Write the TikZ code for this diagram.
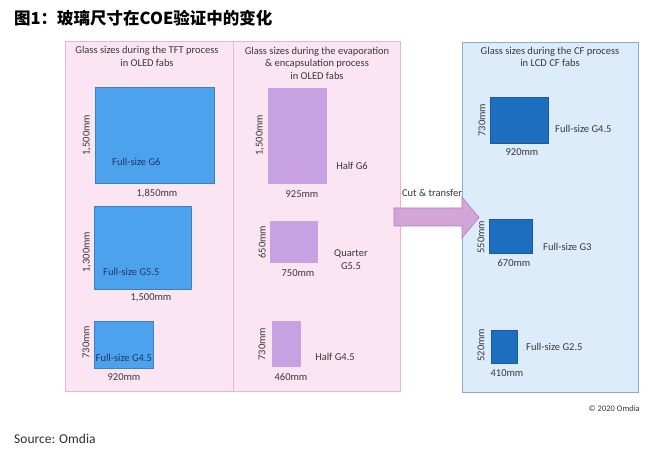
\documentclass[tikz,border=0pt]{standalone}
\usepackage{fontspec}
\setmainfont{Carlito}
\newfontfamily\cjk{Noto Sans CJK SC}
\definecolor{pinkf}{HTML}{FBE5F2}
\definecolor{pinkb}{HTML}{E3B6D8}
\definecolor{bluef}{HTML}{DDECFA}
\definecolor{blueb}{HTML}{8DAACB}
\definecolor{lblue}{HTML}{4DA2EE}
\definecolor{lblueb}{HTML}{3E7FC2}
\definecolor{lav}{HTML}{C7A1E2}
\definecolor{dblue}{HTML}{1E6EC0}
\definecolor{dblueb}{HTML}{1A5AA0}
\definecolor{txt}{HTML}{383838}
\definecolor{navy}{HTML}{1F3864}
\definecolor{arrf}{HTML}{D4A4D8}
\definecolor{arrb}{HTML}{B07EBC}
\begin{document}
\begin{tikzpicture}[x=1pt,y=-1pt,
  panelp/.style={draw=pinkb, fill=pinkf, line width=0.8pt, minimum width=#1, minimum height=350pt, inner sep=0},
  panelb/.style={draw=blueb, fill=bluef, line width=0.8pt, minimum width=176pt, minimum height=350pt, inner sep=0},
  glass/.style 2 args={minimum width=#1, minimum height=#2, inner sep=0},
  gl/.style={fill=lblue, draw=lblueb, line width=0.5pt},
  gv/.style={fill=lav},
  gd/.style={fill=dblue, draw=dblueb, line width=0.5pt},
  head/.style={text=txt, font=\fontsize{10.5}{12.5}\selectfont, align=center, inner sep=0},
  dim/.style={text=txt, font=\fontsize{10.5}{12.5}\selectfont, inner sep=0},
  vdim/.style={dim, rotate=90},
  lab/.style={text=txt, font=\fontsize{10.5}{13.5}\selectfont, inner sep=0, align=center},
  nlab/.style={text=navy, font=\fontsize{10.5}{12.5}\selectfont, inner sep=0, anchor=west},
]
\useasboundingbox (0,0) rectangle (650,454);
\fill[white] (0,0) rectangle (650,454);

% title
\node[anchor=west, inner sep=0, font=\fontsize{16.5}{19}\selectfont\cjk\bfseries] (title) at (14,18) {图1：玻璃尺寸在COE验证中的变化};

% panels
\node[panelp=168pt] (p1) at (149,216) {};
\node[panelp=167pt] (p2) at (316.5,216) {};

% "Cut & transfer" label (behind the blue panel)
\node[lab] (cut) at (432,193) {Cut \& transfer};

\node[panelb] (p3) at (550,217) {};

% headings
\node[head] (h1) at (147,56.5) {Glass sizes during the TFT process\\in OLED fabs};
\node[head] (h2) at (317,63) {Glass sizes during the evaporation\\\& encapsulation process\\in OLED fabs};
\node[head] (h3) at (550,57) {Glass sizes during the CF process\\in LCD CF fabs};

% panel 1
\node[glass={119pt}{96pt}, gl] (g6) at (154.5,135) {};
\node[vdim] (g6h) at (87,135) {1,500mm};
\node[dim] (g6w) at (157,194) {1,850mm};
\node[nlab] (g6l) at (112,162) {Full-size G6};

\node[glass={97pt}{83pt}, gl] (g55) at (142.5,247.5) {};
\node[vdim] (g55h) at (87,252) {1,300mm};
\node[dim] (g55w) at (151,298) {1,500mm};
\node[nlab] (g55l) at (103,272) {Full-size G5.5};

\node[glass={59pt}{47pt}, gl] (g45) at (123.5,344.5) {};
\node[vdim] (g45h) at (86,342) {730mm};
\node[dim] (g45w) at (124,377) {920mm};
\node[nlab] (g45l) at (95.5,358) {Full-size G4.5};

% panel 2
\node[glass={59pt}{96pt}, gv] (hg6) at (297.5,136) {};
\node[vdim] (hg6h) at (260,135) {1,500mm};
\node[dim] (hg6w) at (302,194) {925mm};
\node[lab] (hg6l) at (352,166) {Half G6};

\node[glass={48pt}{42pt}, gv] (q55) at (294,242) {};
\node[vdim] (q55h) at (262,242) {650mm};
\node[dim] (q55w) at (298,273) {750mm};
\node[lab] (q55l) at (351,259.5) {Quarter\\G5.5};

\node[glass={29pt}{46pt}, gv] (h45) at (286.5,344) {};
\node[vdim] (h45h) at (262,344) {730mm};
\node[dim] (h45w) at (291,377) {460mm};
\node[lab] (h45l) at (335,357) {Half G4.5};

% blue panel
\node[glass={58pt}{46pt}, gd] (b45) at (519,120) {};
\node[vdim] (b45h) at (482,120) {730mm};
\node[dim] (b45w) at (522,152) {920mm};
\node[lab, anchor=west] (b45l) at (555,129) {Full-size G4.5};

\node[glass={43pt}{34pt}, gd] (b3) at (510.5,236) {};
\node[vdim] (b3h) at (481,237) {550mm};
\node[dim] (b3w) at (514,263) {670mm};
\node[lab, anchor=west] (b3l) at (543,247) {Full-size G3};

\node[glass={26pt}{33pt}, gd] (b25) at (504,346.5) {};
\node[vdim] (b25h) at (481,345) {520mm};
\node[dim] (b25w) at (507,373) {410mm};
\node[lab, anchor=west] (b25l) at (526,347) {Full-size G2.5};

% arrow
\draw[fill=arrf, draw=arrb, line width=0.6pt] (394,208) -- (462,208) -- (462,197) -- (479,217.5) -- (462,238) -- (462,226) -- (394,226) -- cycle;

% footer
\node[anchor=east, inner sep=0, text=txt, font=\fontsize{8.5}{10}\selectfont] (copy) at (640,409) {© 2020 Omdia};
\node[anchor=west, inner sep=0, text=txt!85!black, font=\fontsize{13.5}{15}\selectfont] (src) at (14,438.5) {Source: Omdia};
\end{tikzpicture}
\end{document}
